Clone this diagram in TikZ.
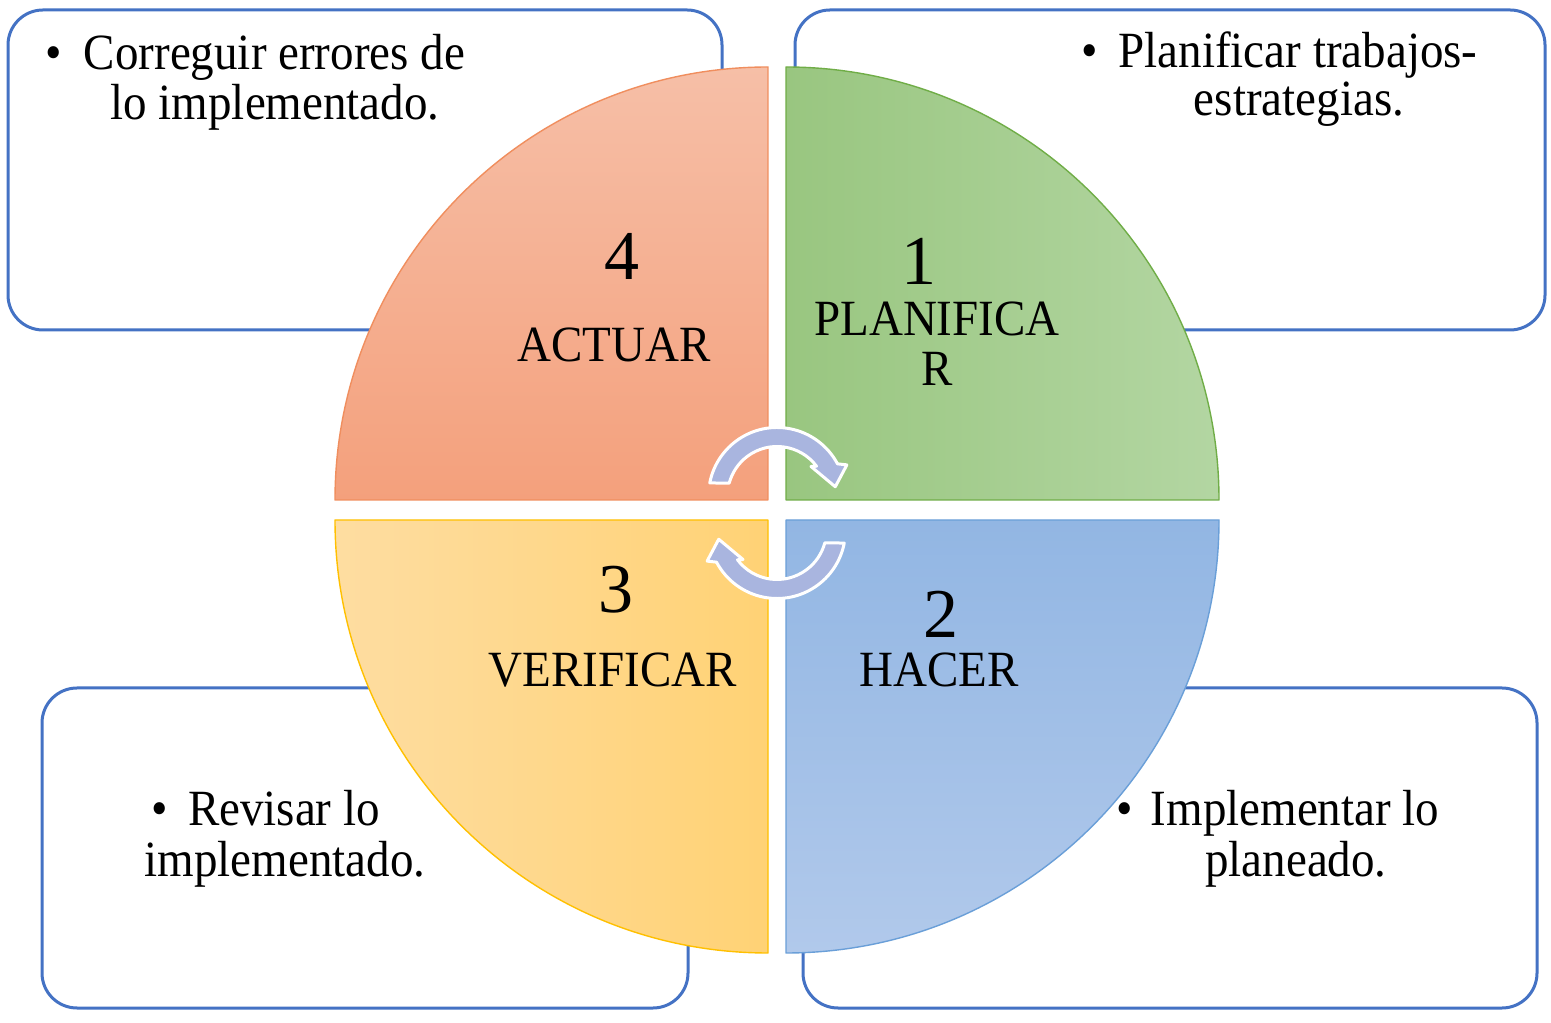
\documentclass[tikz,border=0pt]{standalone}
\usepackage{fontspec}
\setmainfont{Liberation Serif}
\usepackage{graphicx}
\definecolor{boxblue}{HTML}{4472C4}
\definecolor{arrowblue}{HTML}{A9B5DF}
\definecolor{orA}{HTML}{F6BFA7}
\definecolor{orB}{HTML}{F4A07C}
\definecolor{orS}{HTML}{F08E5E}
\definecolor{grA}{HTML}{99C680}
\definecolor{grB}{HTML}{B3D6A2}
\definecolor{grS}{HTML}{70AD47}
\definecolor{blA}{HTML}{92B6E3}
\definecolor{blB}{HTML}{B1C9EB}
\definecolor{blS}{HTML}{6A9FD8}
\definecolor{yeA}{HTML}{FEDDA1}
\definecolor{yeB}{HTML}{FFD275}
\definecolor{yeS}{HTML}{FFC000}
\newcommand{\stretchtxt}[1]{\scalebox{1}[1.08]{#1}}
\tikzset{
  box/.style={draw=boxblue, line width=1.5pt, rounded corners=17.5pt, fill=white},
  txt/.style={inner sep=0pt, anchor=base, font=\fontsize{23.5}{28}\selectfont},
  num/.style={inner sep=0pt, anchor=base, font=\fontsize{35}{40}\selectfont},
  cyc/.style={fill=arrowblue, draw=white, line width=1.5pt, line join=round},
  quadline/.style={line width=0.7pt, line join=round},
}
\begin{document}
\begin{tikzpicture}[x=0.5pt, y=0.5pt]
\useasboundingbox (0,0) rectangle (1551,1022);
\fill[white] (0,0) rectangle (1551,1022);

% boxes
\draw[box] (8,692) rectangle (722,1012);
\draw[box] (795,692) rectangle (1545,1012);
\draw[box] (42,14) rectangle (688,334);
\draw[box] (803,14) rectangle (1537,334);

% quadrants
\path[quadline, top color=orA, bottom color=orB, draw=orS]
  (768,522) -- (335,522) arc[start angle=180, end angle=90, radius=433] -- cycle;
\path[quadline, left color=grA, right color=grB, draw=grS]
  (786,522) -- (786,955) arc[start angle=90, end angle=0, radius=433] -- cycle;
\path[quadline, top color=blA, bottom color=blB, draw=blS]
  (786,502) -- (1219,502) arc[start angle=0, end angle=-90, radius=433] -- cycle;
\path[quadline, left color=yeA, right color=yeB, draw=yeS]
  (768,502) -- (768,69) arc[start angle=270, end angle=180, radius=433] -- cycle;

% circular arrows
\begin{scope}[shift={(777,526)}]
  \path[cyc] (169:68.5) arc[start angle=169, end angle=28, radius=68.5]
    -- (24:76.5) -- (9:59) -- (41:45) -- (37:49.5)
    arc[start angle=37, end angle=165, radius=49.5] -- cycle;
\end{scope}
\begin{scope}[shift={(777,492)}, rotate=180]
  \path[cyc] (169:68.5) arc[start angle=169, end angle=28, radius=68.5]
    -- (24:76.5) -- (9:59) -- (41:45) -- (37:49.5)
    arc[start angle=37, end angle=165, radius=49.5] -- cycle;
\end{scope}

% box texts
\node[txt] (tl1) at (274.5,952) {\stretchtxt{Correguir errores de}};
\node[txt] (tl2) at (275,902) {\stretchtxt{lo implementado.}};
\node[txt] (tlb) at ([xshift=-15pt]tl1.base west) {\stretchtxt{•}};

\node[txt] (tr1) at (1298,954) {\stretchtxt{Planificar trabajos-}};
\node[txt] (tr2) at (1299,906) {\stretchtxt{estrategias.}};
\node[txt] (trb) at ([xshift=-14pt]tr1.base west) {\stretchtxt{•}};

\node[txt] (bl1) at (284,196) {\stretchtxt{Revisar lo}};
\node[txt] (bl2) at (285,146) {\stretchtxt{implementado.}};
\node[txt] (blb) at ([xshift=-14pt]bl1.base west) {\stretchtxt{•}};

\node[txt] (br1) at (1295,196) {\stretchtxt{Implementar lo}};
\node[txt] (br2) at (1296,146) {\stretchtxt{planeado.}};
\node[txt] (brb) at ([xshift=-13pt]br1.base west) {\stretchtxt{•}};

% quadrant labels
\node[num] (n4) at (622,742) {4};
\node[txt] (q4) at (614,660) {\stretchtxt{ACTUAR}};
\node[num] (n1) at (919,737) {1};
\node[txt] (q1a) at (937,686) {\stretchtxt{PLANIFICA}};
\node[txt] (q1b) at (937,636) {\stretchtxt{R}};
\node[num] (n3) at (616,409) {3};
\node[txt] (q3) at (613,335) {\stretchtxt{VERIFICAR}};
\node[num] (n2) at (941,384) {2};
\node[txt] (q2) at (939,335) {\stretchtxt{HACER}};
\end{tikzpicture}
\end{document}
